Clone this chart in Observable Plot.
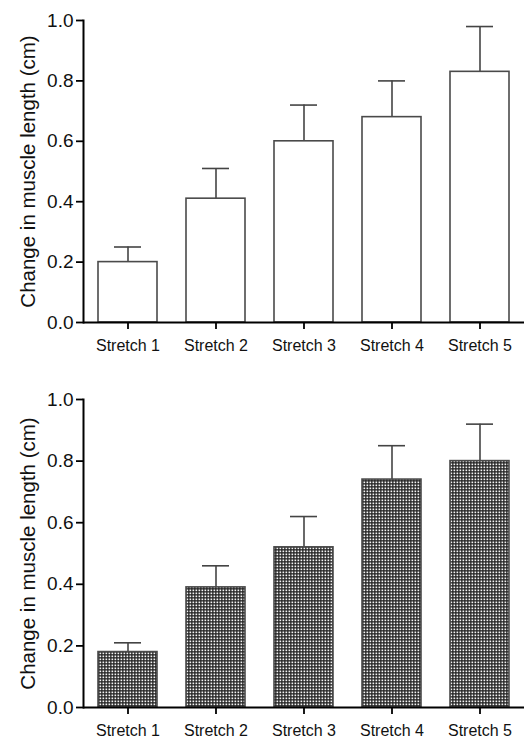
<!DOCTYPE html>
<html><head><meta charset="utf-8">
<script src="https://cdn.jsdelivr.net/npm/d3@7"></script>
<script src="https://cdn.jsdelivr.net/npm/@observablehq/plot@0.6"></script>
<style>body{margin:0;background:#fff;} svg{display:block;}</style>
</head><body><div id="c"></div>
<script>
const categories = ["Stretch 1", "Stretch 2", "Stretch 3", "Stretch 4", "Stretch 5"];
const topMeans = [0.20, 0.41, 0.60, 0.68, 0.83];
const topSEM = [0.05, 0.10, 0.12, 0.12, 0.15];
const bottomMeans = [0.18, 0.39, 0.52, 0.74, 0.80];
const bottomSEM = [0.03, 0.07, 0.10, 0.11, 0.12];
const yTicks = [0.0, 0.2, 0.4, 0.6, 0.8, 1.0];
const yLabel = "Change in muscle length (cm)";

function panel(means, sems, fill, height, mt, mb) {
  const data = categories.map((c, i) => ({cat: c, mean: means[i], top: means[i] + sems[i]}));
  const svg = Plot.plot({
    width: 524, height, marginLeft: 83, marginRight: 0, marginTop: mt, marginBottom: mb,
    style: {fontFamily: "'Liberation Sans', Arial, sans-serif", fontSize: "17px", color: "#000", background: "#fff", overflow: "visible"},
    x: {domain: categories, paddingInner: 0.33, paddingOuter: 0.15, label: null},
    y: {domain: [0, 1], label: null},
    marks: [
      Plot.ruleX(data, {x: "cat", y1: "mean", y2: "top", stroke: "#444", strokeWidth: 1.6}),
      Plot.tickY(data, {x: "cat", y: "top", stroke: "#444", strokeWidth: 1.6, insetLeft: 16, insetRight: 16}),
      Plot.barY(data, {x: "cat", y: "mean", fill, stroke: "#4a4a4a", strokeWidth: 1.6}),
      Plot.axisY({ticks: yTicks, tickFormat: d3.format(".1f"), tickSize: 7, tickPadding: 3, strokeWidth: 1.8, fontSize: 19, fill: "#111", label: null}),
      Plot.axisX({tickSize: 7, tickPadding: 10, strokeWidth: 1.8, fontSize: 16, fill: "#111", label: null}),
      Plot.frame({anchor: "left", stroke: "#000", strokeWidth: 2}),
      Plot.ruleY([0], {stroke: "#000", strokeWidth: 2}),
      Plot.text([yLabel], {frameAnchor: "left", dx: -55, rotate: -90, textAnchor: "middle", text: d => d, fontSize: 20.5, fill: "#111"})
    ]
  });
  const defs = d3.select(svg).insert("defs", ":first-child");
  const p = defs.append("pattern").attr("id", "checker").attr("patternUnits", "userSpaceOnUse")
    .attr("width", 3).attr("height", 3);
  p.append("rect").attr("width", 3).attr("height", 3).attr("fill", "#222");
  p.append("rect").attr("x", 0.5).attr("y", 0.5).attr("width", 1.7).attr("height", 1.7).attr("fill", "#f4f4f4");
  return svg;
}

const c = document.getElementById("c");
c.appendChild(panel(topMeans, topSEM, "#fff", 370, 20, 48));
c.appendChild(panel(bottomMeans, bottomSEM, "url(#checker)", 372, 29, 35));
</script></body></html>
